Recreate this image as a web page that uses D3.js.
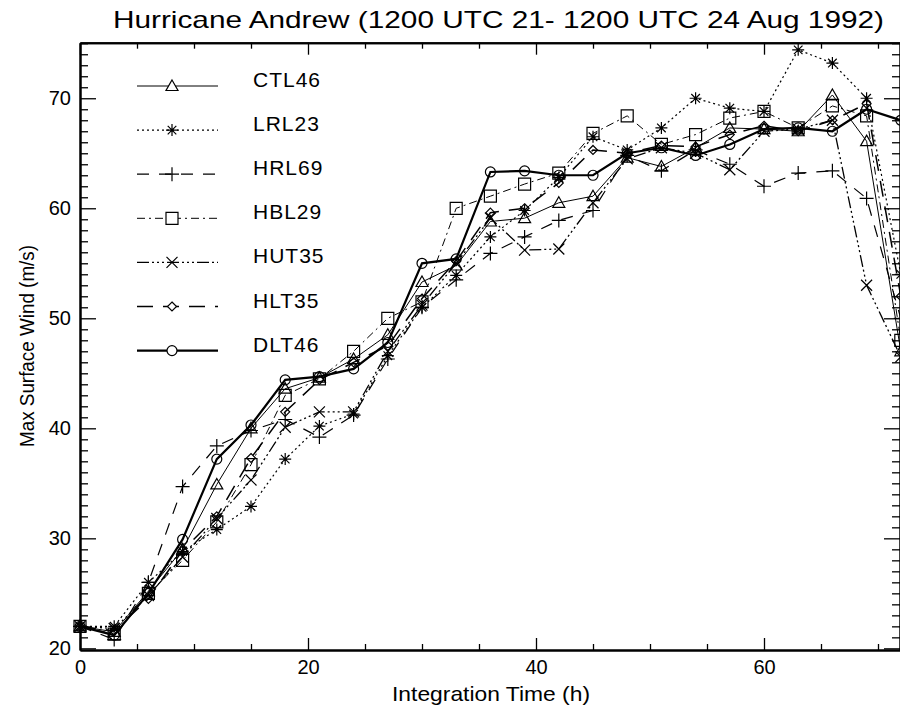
<!DOCTYPE html>
<html><head><meta charset="utf-8">
<script src="https://cdn.jsdelivr.net/npm/d3@7"></script>
<style>
body{margin:0;background:#fff}
text{font-family:"Liberation Sans",Arial,Helvetica,sans-serif;fill:#000}
</style>
</head><body><svg id="c" width="900" height="710"></svg>
<script>
// ---------- data ----------
const hours = [0,3,6,9,12,15,18,21,24,27,30,33,36,39,42,45,48,51,54,57,60,63,66,69,72];
const CTL46 = [22.0,21.5,25.2,29.0,34.9,40.0,43.6,44.6,46.3,48.5,53.3,54.8,58.8,59.1,60.5,61.1,64.6,63.8,65.5,67.3,67.2,67.0,70.3,66.1,47.0];
const LRL23 = [22.0,22.0,26.0,28.8,30.8,32.9,37.2,40.2,41.3,46.6,51.0,53.9,57.4,59.8,62.8,66.5,65.3,67.3,70.0,69.1,68.8,74.4,73.2,70.0,54.0];
const HRL69 = [22.0,20.8,26.0,34.7,38.4,39.8,40.8,39.2,41.2,46.3,51.0,53.5,55.9,57.4,58.9,59.8,64.8,63.4,65.3,64.0,62.0,63.2,63.4,60.9,50.0];
const HBL29 = [22.0,21.3,25.0,28.0,31.5,36.7,43.0,44.5,47.0,50.0,51.5,60.0,61.1,62.2,63.2,66.8,68.4,65.8,66.7,68.2,68.8,67.3,69.3,68.4,48.0];
const HUT35 = [22.0,21.8,24.8,28.3,31.8,35.3,40.1,41.5,41.5,47.0,51.2,55.0,59.1,56.2,56.3,60.5,64.5,65.5,65.0,63.5,67.0,67.2,68.0,53.0,46.5];
const HLT35 = [22.0,21.6,24.5,28.9,32.0,37.3,41.5,44.4,46.0,47.5,51.8,55.2,59.6,60.0,62.3,65.3,65.0,65.7,65.6,66.7,67.5,67.0,68.0,69.5,52.0];
const DLT46 = [22.0,21.2,25.0,29.9,37.2,40.3,44.4,44.7,45.4,47.8,55.0,55.4,63.3,63.4,63.0,63.0,65.0,65.5,64.8,65.8,67.2,67.3,67.0,69.0,68.0];
const seriesNames = ["CTL46","LRL23","HRL69","HBL29","HUT35","HLT35","DLT46"];
const seriesValues = [CTL46,LRL23,HRL69,HBL29,HUT35,HLT35,DLT46];
const xMajorTicks = [0,20,40,60];
const yMajorTicks = [20,30,40,50,60,70];
const titleText = "Hurricane Andrew (1200 UTC 21- 1200 UTC 24 Aug 1992)";
const xLabel = "Integration Time (h)";
const yLabel = "Max Surface Wind (m/s)";

// ---------- styles ----------
const styles = {
  CTL46:{dash:null, w:1, m:"triangle"},
  LRL23:{dash:"2,3", w:1.2, m:"asterisk"},
  HRL69:{dash:"12,10", w:1.2, m:"plus"},
  HBL29:{dash:"8,4,2,4", w:1, m:"square"},
  HUT35:{dash:"12,3,2,3,2,3,2,3", w:1.3, m:"times"},
  HLT35:{dash:"16,10", w:1.5, m:"diamond"},
  DLT46:{dash:null, w:2.2, m:"circle"}
};
function markerPath(type){
  switch(type){
    case "triangle": return "M0,-6L6,4.5L-6,4.5Z";
    case "asterisk": return "M0,-6V6M-6,0H6M-4.3,-4.3L4.3,4.3M-4.3,4.3L4.3,-4.3";
    case "plus": return "M-7,0H7M0,-7V7";
    case "square": return "M-6,-6H6V6H-6Z";
    case "times": return "M-5.5,-5.5L5.5,5.5M-5.5,5.5L5.5,-5.5";
    case "diamond": return "M0,-4.5L4.5,0L0,4.5L-4.5,0Z";
    case "circle": return "M5,0A5,5 0 1,1 -5,0A5,5 0 1,1 5,0Z";
  }
}

// ---------- layout ----------
const svg = d3.select("#c");
const x = d3.scaleLinear().domain([0,72]).range([80,900.8]);
const y = d3.scaleLinear().domain([19.85,75.05]).range([650,42.7]);

const xMinor = [5,10,15,25,30,35,45,50,55,65,70];
const yMinor = d3.range(20,76).filter(v=>v%10!==0);

function styleAxis(g, showLabels){
  g.select(".domain").attr("stroke","#000").attr("stroke-width",2);
  g.selectAll(".tick line").attr("stroke","#000").attr("stroke-width",1.3);
  if(!showLabels) g.selectAll(".tick text").remove();
  else g.selectAll(".tick text").attr("font-size",20).attr("fill","#000").attr("font-family",'"Liberation Sans",Arial,sans-serif');
}
// bottom
svg.append("g").attr("transform","translate(0,650)")
  .call(d3.axisBottom(x).tickValues(xMajorTicks).tickSize(-12).tickPadding(24).tickSizeOuter(0))
  .call(g=>styleAxis(g,true))
  .call(g=>g.selectAll(".tick text").attr("dy","0"));
svg.append("g").attr("transform","translate(0,650)")
  .call(d3.axisBottom(x).tickValues(xMinor).tickSize(-6).tickSizeOuter(0))
  .call(g=>styleAxis(g,false));
// top
svg.append("g").attr("transform","translate(0,42.7)")
  .call(d3.axisTop(x).tickValues(xMajorTicks).tickSize(-12).tickSizeOuter(0))
  .call(g=>styleAxis(g,false));
svg.append("g").attr("transform","translate(0,42.7)")
  .call(d3.axisTop(x).tickValues(xMinor).tickSize(-6).tickSizeOuter(0))
  .call(g=>styleAxis(g,false));
// left
svg.append("g").attr("transform","translate(80,0)")
  .call(d3.axisLeft(y).tickValues(yMajorTicks).tickSize(-16).tickPadding(9).tickFormat(d3.format("d")).tickSizeOuter(0))
  .call(g=>styleAxis(g,true));
svg.append("g").attr("transform","translate(80,0)")
  .call(d3.axisLeft(y).tickValues(yMinor).tickSize(-8).tickSizeOuter(0))
  .call(g=>styleAxis(g,false));
// right
svg.append("g").attr("transform","translate(900,0)")
  .call(d3.axisRight(y).tickValues(yMajorTicks).tickSize(-16).tickSizeOuter(0))
  .call(g=>styleAxis(g,false));
svg.append("g").attr("transform","translate(900,0)")
  .call(d3.axisRight(y).tickValues(yMinor).tickSize(-8).tickSizeOuter(0))
  .call(g=>styleAxis(g,false));

// ---------- series ----------
const line = d3.line().x(d=>x(d[0])).y(d=>y(d[1]));
seriesNames.forEach((name,i)=>{
  const st = styles[name];
  const pts = hours.map((h,j)=>[h, seriesValues[i][j]]);
  const g = svg.append("g");
  g.append("path").datum(pts).attr("d",line).attr("fill","none")
    .attr("stroke","#000").attr("stroke-width",st.w)
    .attr("stroke-dasharray",st.dash);
  g.selectAll("path.m").data(pts).join("path").attr("class","m")
    .attr("transform",d=>`translate(${x(d[0])},${y(d[1])})`)
    .attr("d",markerPath(st.m)).attr("fill","none").attr("stroke","#000").attr("stroke-width",1.2);
});

// ---------- legend ----------
const legY0 = 86, legStep = 44.1;
seriesNames.forEach((name,i)=>{
  const st = styles[name];
  const ly = legY0 + i*legStep;
  const g = svg.append("g");
  g.append("line").attr("x1",137).attr("x2",218).attr("y1",ly).attr("y2",ly)
    .attr("stroke","#000").attr("stroke-width",st.w).attr("stroke-dasharray",st.dash);
  g.append("path").attr("transform",`translate(172,${ly})`).attr("d",markerPath(st.m))
    .attr("fill","#fff").attr("stroke","#000").attr("stroke-width",1.2);
  g.append("text").attr("x",253).attr("y",ly+1).attr("font-size",21)
    .attr("letter-spacing",1).text(name);
});

// ---------- titles ----------
svg.append("text").attr("x",498.5).attr("y",28).attr("text-anchor","middle")
  .attr("font-size",24).attr("textLength",771).attr("lengthAdjust","spacingAndGlyphs").text(titleText);
svg.append("text").attr("x",491).attr("y",701).attr("text-anchor","middle")
  .attr("font-size",21).attr("textLength",198).attr("lengthAdjust","spacingAndGlyphs").text(xLabel);
svg.append("text").attr("transform","translate(34,346) rotate(-90)").attr("text-anchor","middle")
  .attr("font-size",20).attr("textLength",202).attr("lengthAdjust","spacingAndGlyphs").text(yLabel);
</script>
</body></html>
